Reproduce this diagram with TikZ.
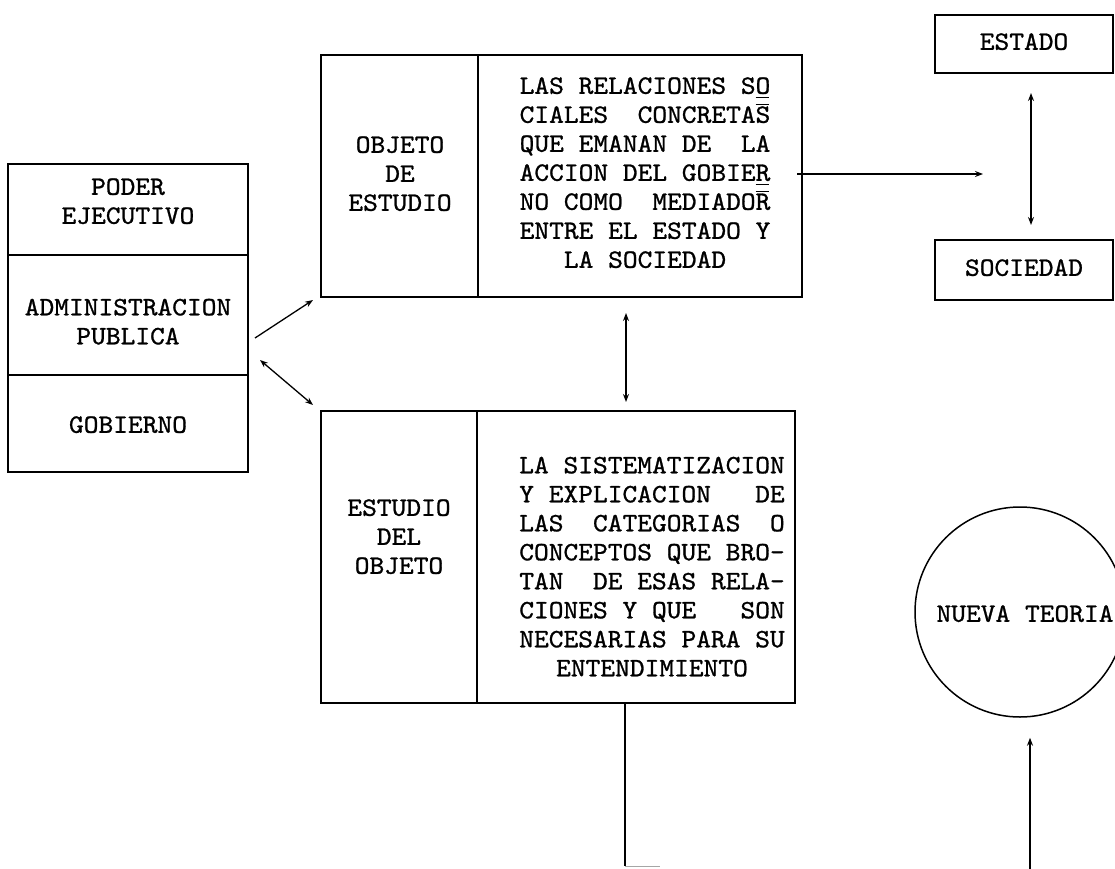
\documentclass[tikz,border=0pt]{standalone}
\usepackage{fontspec}
\newfontfamily\twf{lmmono10-regular.otf}[FakeStretch=1.06,FakeBold=1.0]
\usetikzlibrary{arrows.meta,calc}
\newcommand{\tw}[1]{\begin{tabular}{@{}c@{}}#1\end{tabular}}
\newcommand{\ovl}[1]{\rlap{\rule[0.68em]{0.5em}{1.2pt}}#1}
\newcommand{\unl}[1]{\rlap{\rule[-0.15em]{0.5em}{1.2pt}}#1}
\begin{document}
\begin{tikzpicture}[x=1pt,y=-1pt,
  box/.style={draw, line width=1.5pt, inner sep=0pt, outer sep=0pt},
  txt/.style={font=\twf\fontsize{26.5}{29}\selectfont, inner sep=0pt},
  arr/.style={line width=1.3pt, -{Stealth[length=8pt,width=6pt]}},
  darr/.style={line width=1.3pt, {Stealth[length=8pt,width=6pt]}-{Stealth[length=8pt,width=6pt]}},
  ln/.style={line width=1.4pt}]
\fill[white] (0,0) rectangle (1115,869);
\clip (0,0) rectangle (1115,869);
% left stacked box
\node[box, minimum width=240pt, minimum height=91pt] (poder) at (128,209.5) {};
\node[box, minimum width=240pt, minimum height=120pt] (admin) at (128,315) {};
\node[box, minimum width=240pt, minimum height=97pt] (gob) at (128,423.5) {};
\node[txt] (tpoder) at (128,203.5) {\tw{PODER\\EJECUTIVO}};
\node[txt] (tadmin) at (128,324) {\tw{ADMINISTRACION\\PUBLICA}};
\node[txt] (tgob) at (128,427) {\tw{GOBIERNO}};
% objeto de estudio
\node[box, minimum width=157pt, minimum height=242pt] (objL) at (399.5,176) {};
\node[box, minimum width=324pt, minimum height=242pt] (objR) at (640,176) {};
\node[txt] (tobjL) at (400,176) {\tw{OBJETO\\DE\\ESTUDIO}};
\node[txt] (tobjR) at (645,175) {\tw{LAS RELACIONES S\unl{O}\\CIALES~~CONCRETA\ovl{S}\\QUE EMANAN DE~~LA\\ACCION DEL GOBIE\unl{R}\\NO COMO~~MEDIADO\ovl{R}\\ENTRE EL ESTADO Y\\LA SOCIEDAD}};
% estudio del objeto
\node[box, minimum width=156pt, minimum height=292pt] (estL) at (399,557) {};
\node[box, minimum width=318pt, minimum height=292pt] (estR) at (636,557) {};
\node[txt] (testL) at (399,539) {\tw{ESTUDIO\\DEL\\OBJETO}};
\node[txt] (testR) at (652,569) {\tw{LA SISTEMATIZACION\\Y EXPLICACION~~~DE\\LAS~~CATEGORIAS~~O\\CONCEPTOS QUE BRO-\\TAN~~DE ESAS RELA-\\CIONES Y QUE~~~SON\\NECESARIAS PARA SU\\ENTENDIMIENTO}};
% estado / sociedad
\node[box, minimum width=178pt, minimum height=58pt] (estado) at (1024,44) {};
\node[txt] (testado) at (1024,44) {\tw{ESTADO}};
\node[box, minimum width=178pt, minimum height=60pt] (sociedad) at (1024,270) {};
\node[txt] (tsociedad) at (1024,270) {\tw{SOCIEDAD}};
% nueva teoria
\node[draw, line width=1.5pt, circle, minimum size=210pt, inner sep=0pt] (teoria) at (1020,612) {};
\node[txt] (tteoria) at (1025,616) {\tw{NUEVA TEORIA}};
% connectors
\draw[arr] ($(admin.east)+(7,23)$) -- ($(objL.south west)+(-8,3)$);
\draw[darr] ($(admin.east)+(12,45)$) -- ($(estL.north west)+(-8,-6)$);
\draw[darr] ($(objR.south)+(-14,16)$) -- ($(estR.north)+(-10,-9)$);
\coordinate (hend) at (983,174);
\draw[arr] ($(objR.east)+(-5,-2)$) -- (hend);
\draw[darr] ($(estado.south)+(7,20)$) -- ($(sociedad.north)+(7,-15)$);
\coordinate (bend) at (625,866);
\coordinate (bstub) at (660,866);
\draw[ln] ($(estR.south)+(-11,0)$) -- (bend);
\draw[line width=1pt, black!35] (bend) -- (bstub);
\coordinate (tstart) at (1030,875);
\draw[arr] (tstart) -- ($(teoria.south)+(10,20)$);
\end{tikzpicture}
\end{document}
